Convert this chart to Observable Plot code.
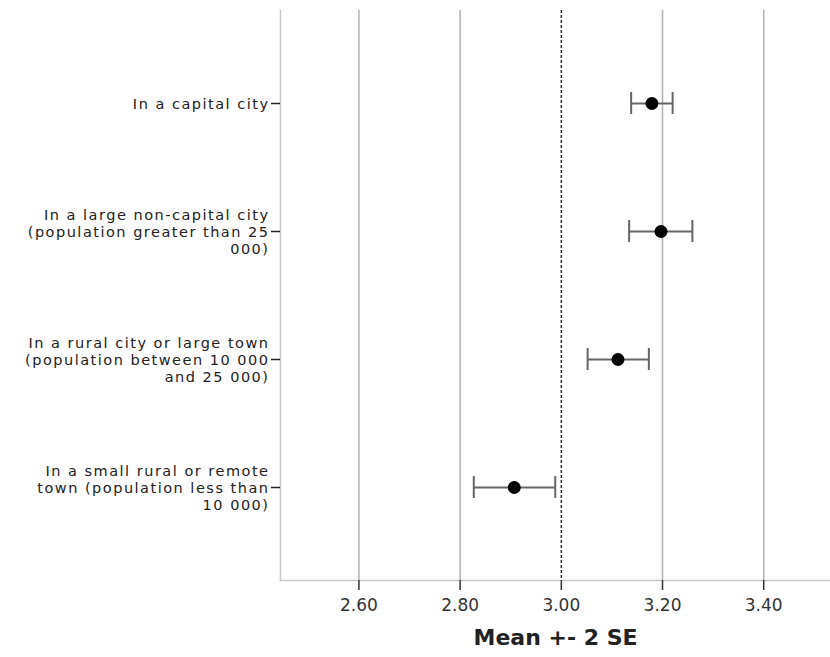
<!DOCTYPE html>
<html><head><meta charset="utf-8">
<script src="https://cdn.jsdelivr.net/npm/d3@7"></script>
<script src="https://cdn.jsdelivr.net/npm/@observablehq/plot@0.6"></script>
<style>
html,body{margin:0;padding:0;background:#fff}
[aria-label="y-axis tick label"] text{letter-spacing:1.5px}
</style>
</head><body><div id="chart"></div>
<script>
const categories = ["capital", "large", "rural", "small"];
const yTickLabels = [
  "In a capital city",
  "In a large non-capital city\n(population greater than 25\n000)",
  "In a rural city or large town\n(population between 10 000\nand 25 000)",
  "In a small rural or remote\ntown (population less than\n10 000)"
];
const means = [3.179, 3.197, 3.112, 2.907];
const lower = [3.138, 3.134, 3.052, 2.827];
const upper = [3.220, 3.259, 3.173, 2.988];
const xTicks = [2.6, 2.8, 3.0, 3.2, 3.4];
const gridTicks = [2.6, 2.8, 3.2, 3.4];
const refValue = 3.0;
const xDomain = [2.445, 3.532];
const xLabel = "Mean +- 2 SE";

const data = categories.map((c, i) => ({category: c, mean: means[i], lo: lower[i], hi: upper[i]}));
const labelOf = new Map(categories.map((c, i) => [c, yTickLabels[i]]));

const chart = Plot.plot({
  width: 830, height: 657,
  marginLeft: 280, marginRight: 0, marginTop: 10, marginBottom: 77,
  style: {fontFamily: "DejaVu Sans, sans-serif", fontSize: "17px", color: "#222", background: "#fff"},
  x: {domain: xDomain},
  y: {type: "band", domain: categories, paddingInner: 0, paddingOuter: 0.22},
  marks: [
    Plot.ruleX(gridTicks, {stroke: "#b0b0b0", strokeWidth: 1.5}),
    Plot.ruleX([refValue], {stroke: "#333", strokeDasharray: "3,2", strokeWidth: 1.5}),
    Plot.frame({anchor: "left", stroke: "#c8c8c8", strokeWidth: 1.5}),
    Plot.frame({anchor: "bottom", stroke: "#c8c8c8", strokeWidth: 1.5}),
    Plot.axisX({ticks: xTicks, tickFormat: d => d.toFixed(2), tickSize: 10, tickPadding: 8,
      stroke: "#333", strokeWidth: 1.5, fill: "#333", fontSize: 17, label: null}),
    Plot.axisY({tickSize: 9, tickPadding: 2, tickFormat: d => labelOf.get(d), lineHeight: 1.17,
      stroke: "#222", strokeWidth: 1.5, fill: "#222", fontSize: 14.5, label: null}),
    Plot.ruleY(data, {y: "category", x1: "lo", x2: "hi", stroke: "#666", strokeWidth: 2}),
    Plot.tickX(data, {x: "lo", y: "category", insetTop: 53, insetBottom: 53, stroke: "#666", strokeWidth: 2}),
    Plot.tickX(data, {x: "hi", y: "category", insetTop: 53, insetBottom: 53, stroke: "#666", strokeWidth: 2}),
    Plot.dot(data, {x: "mean", y: "category", r: 6.5, fill: "#000", stroke: "none"}),
    Plot.text([xLabel], {frameAnchor: "bottom", dy: 64, fontSize: 22, fontWeight: "bold", fill: "#222"})
  ]
});
document.getElementById("chart").append(chart);
</script>
</body></html>
